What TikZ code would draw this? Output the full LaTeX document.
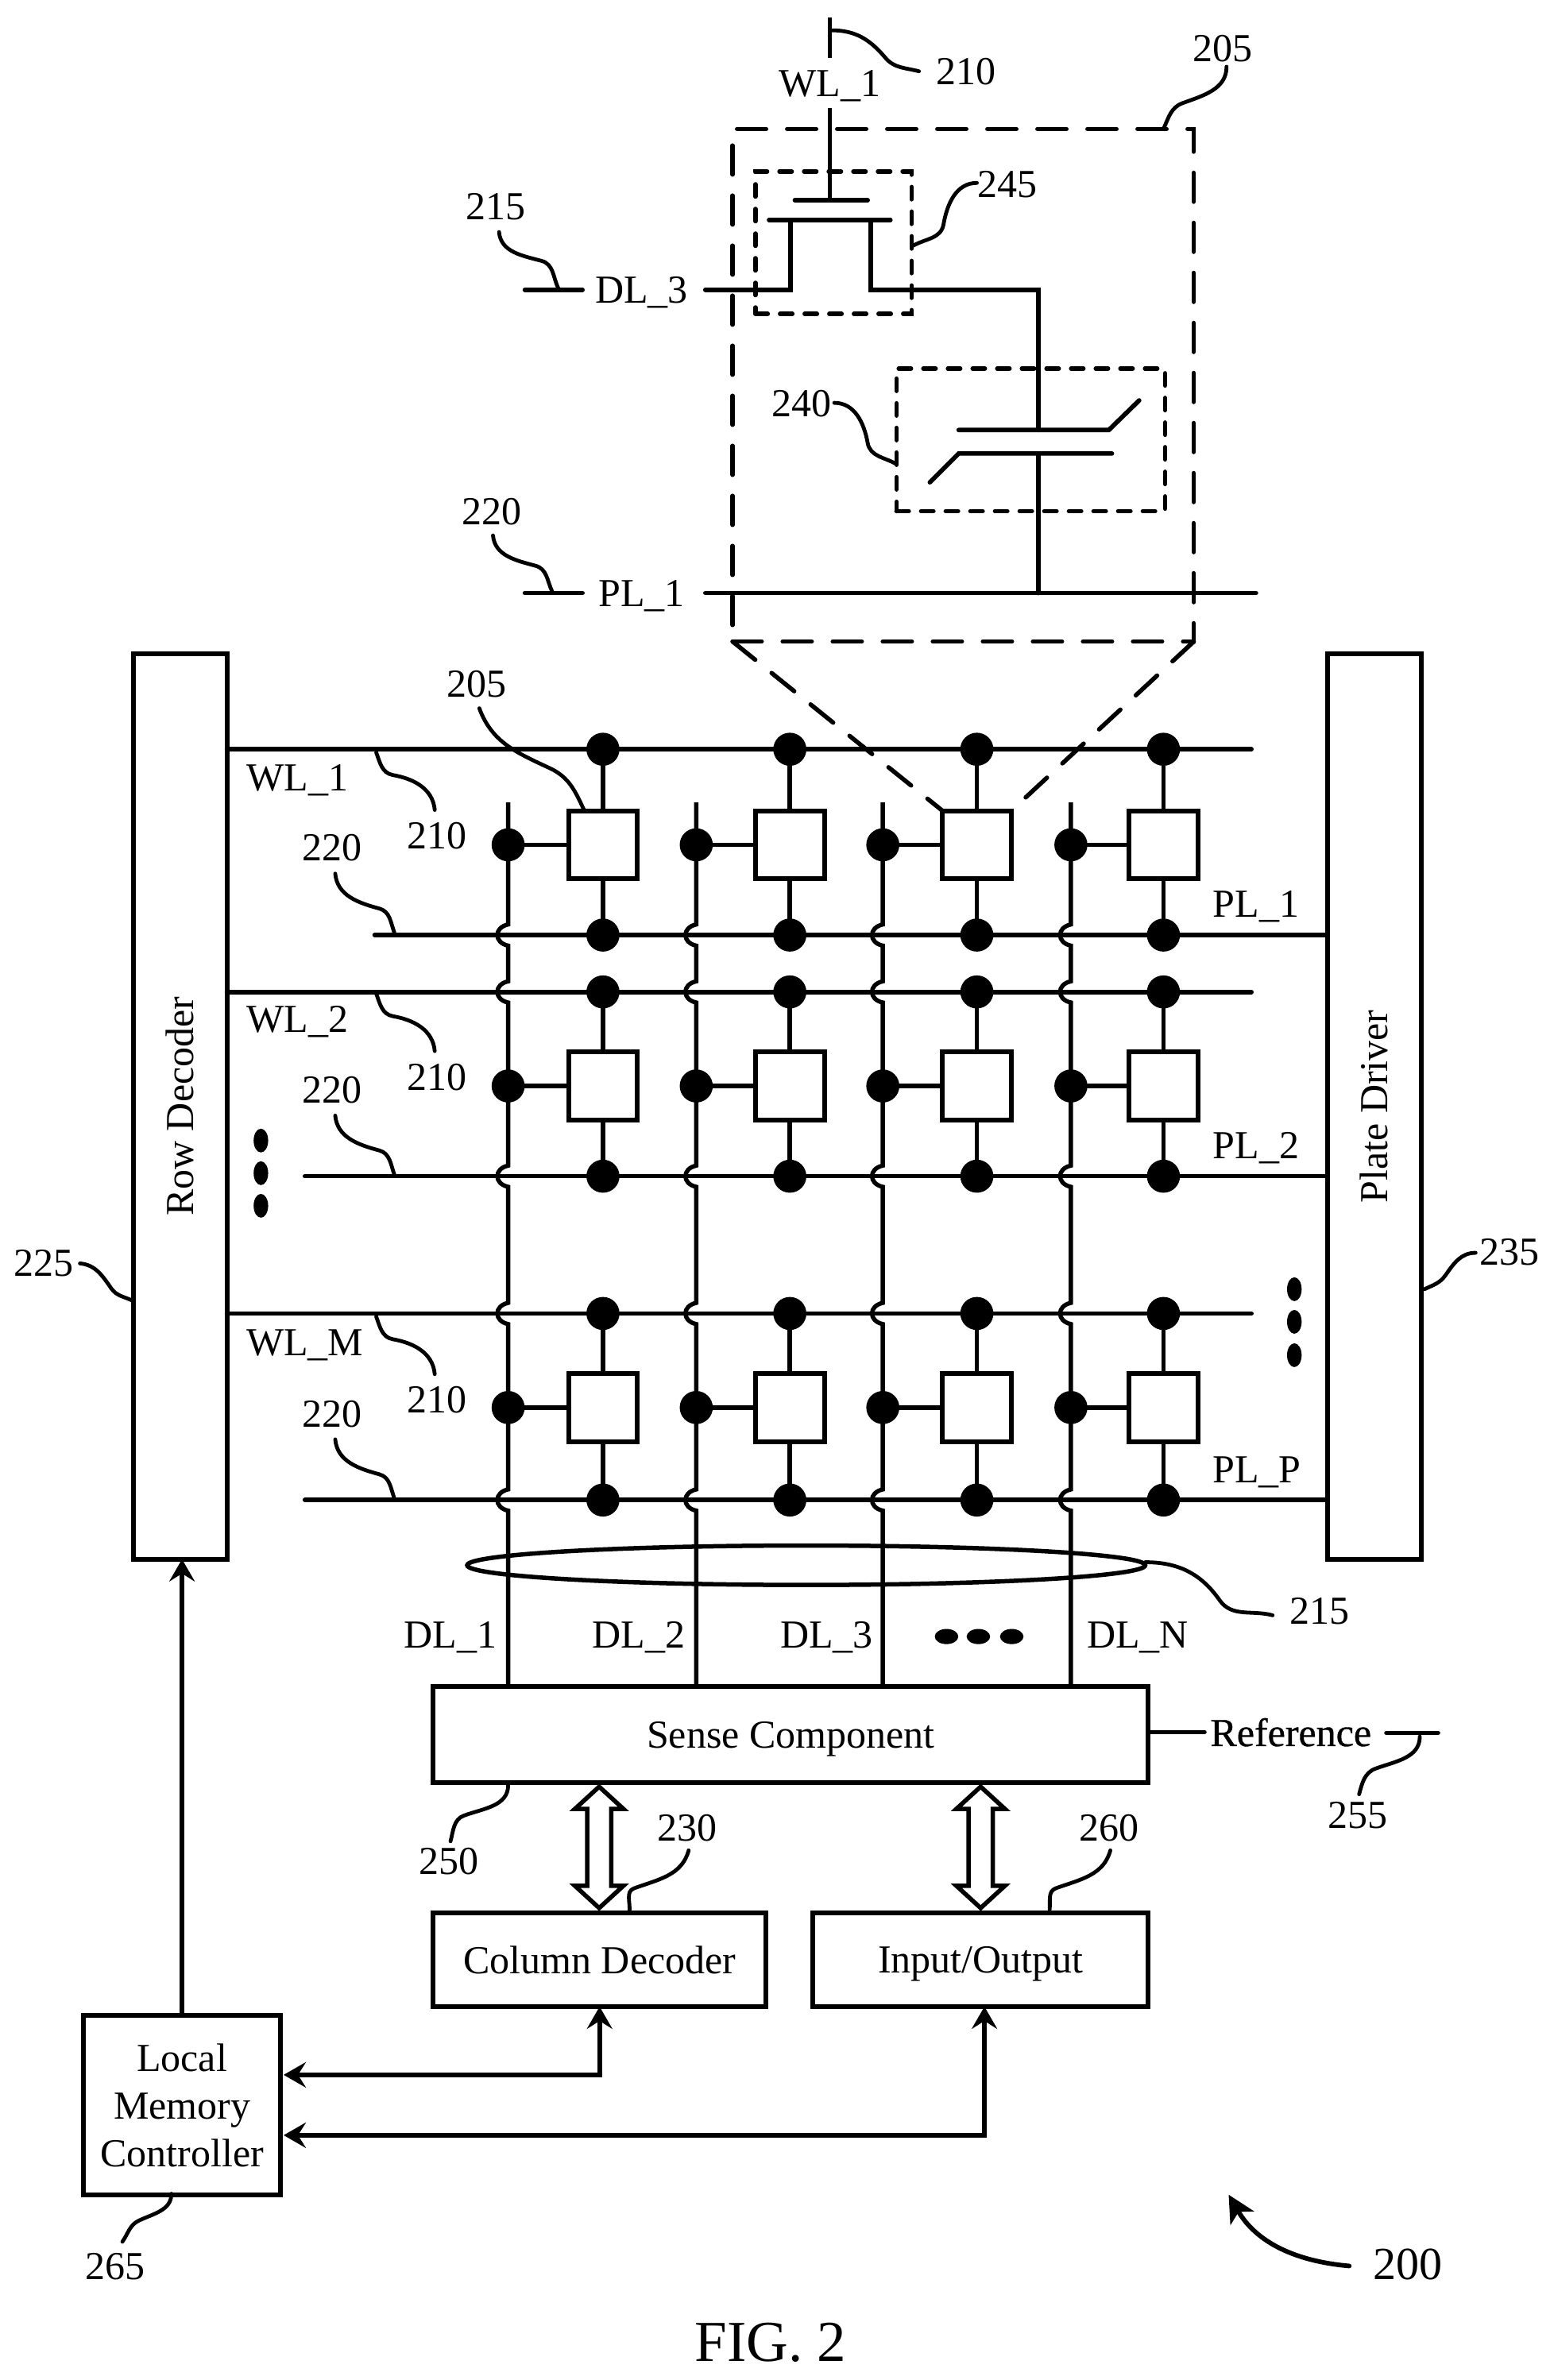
\documentclass[tikz,border=0pt]{standalone}
\usepackage{graphicx}
\usepackage{fontspec}
\setmainfont{Liberation Serif}
\newfontfamily\reffont[FakeBold=0.7]{Liberation Serif}
\usetikzlibrary{arrows.meta,shapes.geometric,shapes.arrows,calc}
\def\u{1.9092pt}
\tikzset{
  wire/.style={line width=5.7pt,line cap=round,line join=miter},
  thin wire/.style={line width=5.4pt},
  leader/.style={line width=4.8pt,line cap=round},
  box/.style={draw,line width=6pt,fill=white,inner sep=0pt,outer sep=0pt,align=center,font=\fontsize{50}{60}\selectfont},
  sized/.style 2 args={minimum width=#1*\u,minimum height=#2*\u},
  txt/.style={inner sep=0pt,outer sep=0pt,text depth=0pt,font=\fontsize{50}{60}\selectfont},
  dot/.style={circle,fill=black,inner sep=0pt,outer sep=0pt,minimum size=21.8*\u},
  bigdot/.style 2 args={ellipse,fill=black,inner sep=0pt,outer sep=0pt,minimum width=#1*\u,minimum height=#2*\u},
  bigdash/.style={draw,line width=5.5pt,line cap=round,inner sep=0pt,outer sep=0pt,dash pattern=on 36.5pt off 26.5pt},
  smalldash/.style={draw,line width=5.5pt,line cap=round,inner sep=0pt,outer sep=0pt,dash pattern=on 15.5pt off 15.5pt},
  zoomline/.style={line width=5.5pt,line cap=round,dash pattern=on 36.5pt off 26.5pt},
  hopat/.style 2 args={insert path={-- (#1,#2-7) .. controls (#1-9.5,#2-5) and (#1-9.5,#2+5) .. (#1,#2+7)}},
  solidtip/.style={-{Stealth[length=28pt,width=32pt,inset=10pt]}},
  bothtip/.style={{Stealth[length=28pt,width=32pt,inset=10pt]}-{Stealth[length=28pt,width=32pt,inset=10pt]}},
  hollow/.style={double arrow,draw,fill=white,line width=5.5pt,rotate=90,inner sep=6.5*\u,outer sep=0pt,minimum height=80*\u,minimum width=30*\u,double arrow head extend=8*\u,double arrow tip angle=95,double arrow head indent=0pt},
}
% name, text, label position, p1, p2, p3, direction at p1, at p2, at p3
\newcommand\lead[9]{%
  \node[txt] (L#1) at (#3) {#2};
  \coordinate (La#1) at (#4);
  \coordinate (Lb#1) at (#5);
  \coordinate (Lc#1) at (#6);
  \pgfmathsetmacro\inA{#8+180}\pgfmathsetmacro\inB{#9+180}
  \draw[leader] (La#1) to[out=#7,in=\inA] (Lb#1) to[out=#8,in=\inB] (Lc#1);
}
\begin{document}
\begin{tikzpicture}[x=\u,y=-\u]
\useasboundingbox (0,0) rectangle (1024,1569.2);
\fill[white] (0,0) rectangle (1024,1569.2);

% --- large blocks
\node[box,sized={61.6}{597}] (rowdec) at (118.8,729.5) {\rotatebox{90}{Row Decoder}};
\node[box,sized={62}{597}] (platedrv) at (906,729.5) {\rotatebox{90}{Plate Driver}};
\node[box,text depth=0pt,sized={471.3}{63.5}] (sense) at (521.3,1143.7) {Sense Component};
\node[box,text depth=0pt,sized={219.3}{62}] (coldec) at (395.3,1292) {Column Decoder};
\node[box,text depth=0pt,sized={221}{62}] (io) at (646.5,1292) {Input/Output};
\node[box,sized={130}{118}] (lmc) at (120,1388) {Local\\Memory\\Controller};

% --- array lines
\foreach \r/\wy/\py/\ps in {1/494/616.5/247,2/654/775.5/201,3/866/989/201}{
  \coordinate (wlend\r) at (825,\wy);
  \coordinate (plstart\r) at (\ps,\py);
  \draw[wire] (rowdec.east |- wlend\r) -- (wlend\r);
  \draw[wire] (plstart\r) -- (platedrv.west |- plstart\r);
}
\foreach \c/\dx in {1/335,2/459,3/582,4/706}{
  \coordinate (dltop\c) at (\dx,529);
  \draw[thin wire] (dltop\c) [hopat={\dx}{616.5}] [hopat={\dx}{654}] [hopat={\dx}{775.5}] [hopat={\dx}{866}] [hopat={\dx}{989}] -- (dltop\c |- sense.north);
}
% --- memory cells
\foreach \r/\wy/\cy/\py in {1/494/557/616.5,2/654/716/775.5,3/866/928/989}{
  \foreach \c/\dx/\mx in {1/335/397.5,2/459/520.7,3/582/644,4/706/767}{
    \node[box,sized={45.5}{45}] (cell\r\c) at (\mx,\cy) {};
    \node[dot] (top\r\c) at (\mx,\wy) {};
    \node[dot] (bot\r\c) at (\mx,\py) {};
    \node[dot] (left\r\c) at (\dx,\cy) {};
    \draw[wire] (top\r\c) -- (cell\r\c);
    \draw[wire] (cell\r\c) -- (bot\r\c);
    \draw[wire] (left\r\c) -- (cell\r\c);
  }
}
% --- ellipsis dots
\foreach \i/\yy in {1/752,2/773.5,3/795}{\node[bigdot={9.6}{15.7}] (ldots\i) at (172,\yy) {};}
\foreach \i/\yy in {1/850,2/871.5,3/893.5}{\node[bigdot={9.6}{15.7}] (rdots\i) at (853.3,\yy) {};}
\foreach \i/\xx in {1/624,2/645,3/667}{\node[bigdot={15.5}{10}] (bdots\i) at (\xx,1079) {};}

% --- bundle ellipse
\node[ellipse,draw,line width=5.5pt,inner sep=0pt,outer sep=0pt,sized={447}{26}] (bundle) at (531.5,1032) {};

% --- array labels
\node[txt] (wl1) at (196,513) {WL\_1};
\node[txt] (wl2) at (196,672) {WL\_2};
\node[txt] (wlm) at (201,885) {WL\_M};
\node[txt] (pl1) at (828,596) {PL\_1};
\node[txt] (pl2) at (828,755) {PL\_2};
\node[txt] (plp) at (828.5,969) {PL\_P};
\node[txt] (dl1) at (297,1078) {DL\_1};
\node[txt] (dl2) at (421,1078) {DL\_2};
\node[txt] (dl3) at (545,1078) {DL\_3};
\node[txt] (dln) at (750,1078) {DL\_N};

% --- inset
\node[bigdash,sized={304}{338}] (inset) at (635,254) {};
\node[smalldash,sized={103}{94}] (fet) at (549.5,160) {};
\node[smalldash,sized={177}{94}] (fecap) at (679.5,290) {};
\draw[zoomline] (inset.south west) -- (cell13.north west);
\draw[zoomline] (inset.south east) -- (cell13.north east);

\node[txt] (iwl) at (547,55) {WL\_1};
\coordinate (wa) at (547,11.5);
\coordinate (wb) at (547,38);
\coordinate (wc) at (547,71);
\coordinate (gate) at (547,132);
\draw[wire,line cap=butt] (wa) -- (wb);
\draw[wire,line cap=butt] (wc) -- (gate);
\coordinate (gl) at (524,132);
\coordinate (gr) at (572,132);
\draw[wire] (gl) -- (gr);
\coordinate (chl) at (507,145);
\coordinate (chr) at (587,145);
\draw[wire] (chl) -- (chr);
\node[txt] (idl) at (423,191) {DL\_3};
\coordinate (ds1) at (346,191);
\coordinate (ds2) at (384,191);
\draw[wire] (ds1) -- (ds2);
\coordinate (dl) at (465,191);
\coordinate (sl) at (521,191);
\coordinate (sl2) at (521,145);
\draw[wire] (dl) -- (sl) -- (sl2);
\coordinate (sr2) at (574,145);
\coordinate (sr) at (574,191);
\coordinate (nd) at (684.5,191);
\coordinate (pt) at (684.5,283.5);
\draw[wire] (sr2) -- (sr) -- (nd) -- (pt);
\coordinate (cta) at (632,283.5);
\coordinate (ctb) at (731,283.5);
\coordinate (ctc) at (751,264);
\draw[wire] (cta) -- (ctb) -- (ctc);
\coordinate (cba) at (613,318);
\coordinate (cbb) at (632,299);
\coordinate (cbc) at (733,299);
\draw[wire] (cba) -- (cbb) -- (cbc);
\coordinate (pb) at (684.5,299);
\coordinate (pj) at (684.5,391);
\draw[wire] (pb) -- (pj);
\node[txt] (ipl) at (423,391) {PL\_1};
\coordinate (ps1) at (346,391);
\coordinate (ps2) at (384,391);
\draw[wire] (ps1) -- (ps2);
\coordinate (pa) at (465,391);
\coordinate (pz) at (828,391);
\draw[wire] (pa) -- (pz);

% --- leaders
\lead{a}{210}{637,47}{548.6,20}{583.6,38}{605.8,47}{0}{-50}{-15}
\lead{b}{205}{806,32}{808.6,44}{779.6,68}{767,85}{-90}{200}{245}
\lead{c}{245}{664,121.6}{644,120.6}{622,148}{602,162}{180}{260}{210}
\lead{d}{215}{327,136}{329,153}{357,172}{368,190}{-85}{-15}{-65}
\lead{e}{220}{324,337}{325,353}{353,373}{364,390}{-85}{-15}{-65}
\lead{f}{240}{528.6,266}{550,265.6}{572,292}{591,306}{0}{-80}{-30}
\foreach \n/\dy in {g/0,h/159,i/372}{
  \lead{\n}{210}{288,551+\dy}{248,496+\dy}{259,511+\dy}{286.6,534+\dy}{-70}{-10}{-85}
}
\foreach \n/\dy in {j/0,k/159.5,l/373}{
  \lead{\n}{220}{219,559+\dy}{221,576+\dy}{250,599+\dy}{260,615+\dy}{-85}{-15}{-70}
}
\lead{m}{205}{314,451}{316,467}{362.5,506.5}{385,534}{-70}{-25}{-65}
\lead{n}{215}{870,1062}{755,1030}{804,1055}{839,1065}{0}{-55}{-15}
\lead{o}{250}{296,1227}{335,1177}{306,1197}{297,1214}{-90}{200}{255}
\lead{p}{230}{453,1205}{454,1220}{418,1245}{415,1260}{255}{200}{265}
\lead{q}{260}{731,1205}{732,1220}{696,1245}{692,1259}{255}{200}{265}
\lead{r}{255}{895,1197}{936,1145}{907,1166}{896,1183}{-90}{200}{255}
\lead{s}{225}{28.8,833}{52.7,833}{73.3,849.4}{86.8,857.3}{-5}{-55}{-25}
\lead{t}{235}{995,825.5}{972.8,826}{953,840.7}{939,850}{180}{235}{205}
\lead{u}{265}{76,1494.5}{113,1446.4}{91.7,1464}{80.7,1478}{-90}{205}{235}

% --- reference
\node[txt,font=\fontsize{50}{60}\reffont] (ref) at (851,1142) {Reference};
\coordinate (rs) at (794,1142);
\draw[wire] (sense.east |- rs) -- (rs);
\coordinate (gnd1) at (914,1142.5);
\coordinate (gnd2) at (948,1142.5);
\draw[wire] (gnd1) -- (gnd2);

% --- double arrows
\node[hollow] (dbl1) at (395,1218) {};
\node[hollow] (dbl2) at (646.5,1218) {};

% --- controller connections
\draw[wire,line cap=butt,solidtip] (lmc.north) -- (lmc.north |- rowdec.south);
\coordinate (cc1) at (187,1368);
\coordinate (cc2) at (coldec.south |- cc1);
\draw[wire,line cap=butt,bothtip] (cc1) -- (cc2) -- (coldec.south);
\coordinate (cc3) at (187,1407.8);
\coordinate (cc4) at (649,1407.8);
\coordinate (cc5) at (649,1323);
\draw[wire,line cap=butt,bothtip] (cc3) -- (cc4) -- (cc5);

% --- figure labels
\node[txt,font=\fontsize{58}{66}\selectfont] (fig200) at (928,1492.8) {200};
\coordinate (ar1) at (889.5,1494);
\coordinate (ar2) at (810,1447);
\draw[line width=5.8pt,line cap=round,-{Stealth[length=34pt,width=34pt,inset=9pt]}] (ar1) to[out=175,in=-60] (ar2);
\node[txt,font=\fontsize{73}{80}\selectfont] (figtitle) at (508,1544) {FIG. 2};
\end{tikzpicture}
\end{document}
